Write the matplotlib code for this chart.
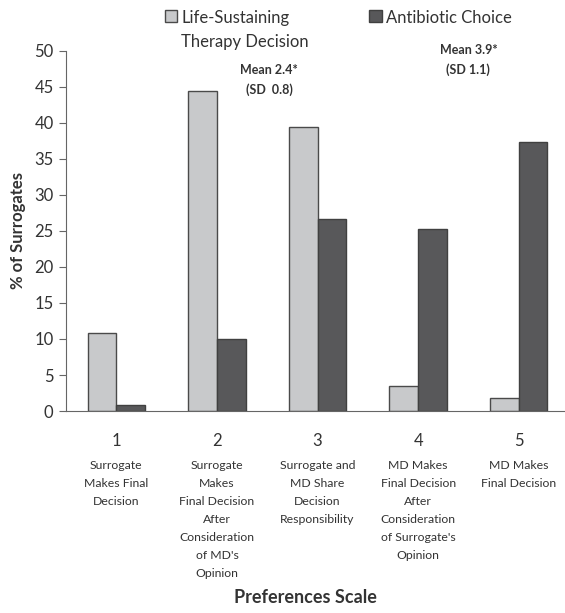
import matplotlib
matplotlib.use("Agg")
import matplotlib.pyplot as plt
import matplotlib.transforms as mtransforms
import numpy as np

plt.rcParams['font.family'] = ['Lato', 'DejaVu Sans']

# values
scale = ['1', '2', '3', '4', '5']
descriptions = [
    'Surrogate\nMakes Final\nDecision',
    'Surrogate\nMakes\nFinal Decision\nAfter\nConsideration\nof MD\'s\nOpinion',
    'Surrogate and\nMD Share\nDecision\nResponsibility',
    'MD Makes\nFinal Decision\nAfter\nConsideration\nof Surrogate\'s\nOpinion',
    'MD Makes\nFinal Decision',
]
life_sustaining = [10.8, 44.4, 39.5, 3.5, 1.8]
antibiotic = [0.9, 10.0, 26.6, 25.3, 37.4]

x = np.arange(len(scale))
w = 0.285

fig = plt.figure(figsize=(5.65, 6.13), dpi=100)
ax = fig.add_axes([0.117, 0.3295, 0.89, 0.5875])

b1 = ax.bar(x - w / 2, life_sustaining, w, color='#c8c9cb', edgecolor='#4a4a4a',
            linewidth=1.0, label='Life-Sustaining\nTherapy Decision')
b2 = ax.bar(x + w / 2, antibiotic, w, color='#58585a', edgecolor='#404040',
            linewidth=1.0, label='Antibiotic Choice')

ax.set_xlim(-0.5, 4.5)
ax.set_ylim(0, 50)
ax.set_yticks(np.arange(0, 51, 5))
ax.spines['top'].set_visible(False)
ax.spines['right'].set_visible(False)
ax.spines['left'].set_color('#666666')
ax.spines['bottom'].set_color('#666666')
ax.tick_params(axis='y', direction='out', length=5, color='#666666',
               labelsize=12, labelcolor='#333333', pad=4)
ax.set_xticks(x)
ax.set_xticklabels(scale)
ax.tick_params(axis='x', length=0, labelsize=12, labelcolor='#333333', pad=16)

ax.set_ylabel('% of Surrogates', fontsize=12, fontweight='bold', color='#333333',
              labelpad=6)

trans = mtransforms.blended_transform_factory(ax.transData, ax.transAxes)
for xi, d in zip(x, descriptions):
    ax.text(xi, -0.137, d, transform=trans, ha='center', va='top',
            fontsize=8.8, color='#333333', linespacing=1.78)

fig.text(0.54, 0.012, 'Preferences Scale', ha='center', va='bottom',
         fontsize=13, fontweight='bold', color='#333333')

ax.text(1.52, 45.9, 'Mean 2.4*\n(SD  0.8)', ha='center', va='center',
        fontsize=9, fontweight='bold', color='#333333', linespacing=1.7)
ax.text(3.5, 48.75, 'Mean 3.9*\n(SD 1.1)', ha='center', va='center',
        fontsize=9, fontweight='bold', color='#333333', linespacing=1.7)

leg = fig.legend(handles=[b1, b2], loc='upper left', bbox_to_anchor=(0.265, 1.008),
                 ncol=2, frameon=False, fontsize=12, handlelength=0.75,
                 handleheight=0.75, handletextpad=0.25, columnspacing=3.6,
                 labelcolor='#333333')
for t in leg.get_texts():
    t.set_linespacing(1.6)
# put the legend boxes level with the first text line
leg._legend_handle_box.align = 'top'
for col in leg._legend_handle_box.get_children():
    col.align = 'left'
    for item in col.get_children():
        item.align = 'top'

fig.savefig('out.png', dpi=100)
